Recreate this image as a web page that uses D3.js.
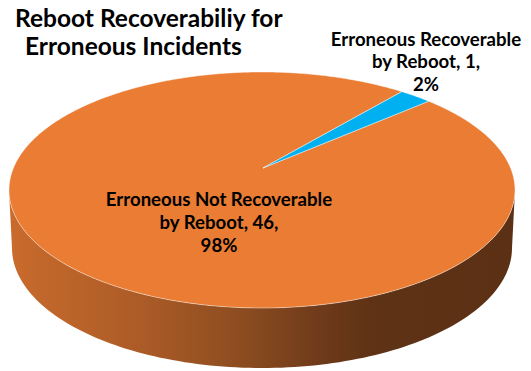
<!DOCTYPE html>
<html>
<head>
<meta charset="utf-8">
<script src="https://cdn.jsdelivr.net/npm/d3@7"></script>
<style>
  body { margin: 0; background: #fff; }
  svg { display: block; font-family: Lato, 'Open Sans', sans-serif; font-weight: bold; }
</style>
</head>
<body>
<svg></svg>
<script>
const width = 531
const height = 371

// data
const categories = ['Erroneous Not Recoverable by Reboot', 'Erroneous Recoverable by Reboot']
const values = [46, 1]
const percents = ['98%', '2%']
const labelLines = [
  ['Erroneous Not Recoverable', 'by Reboot, 46,', '98%'],
  ['Erroneous Recoverable', 'by Reboot, 1,', '2%']
]
const titleLines = ['Reboot Recoverabiliy for', 'Erroneous Incidents']
const colors = ['#EA7C33', '#00B0F0']

// top ellipse + perspective centre
const cx = 262, cy = 190, rx = 253, ry = 118
const apex = [263, 168]
// bottom rim of the side wall
const bcx = 262, bcy = 248, brx = 250, bry = 120

const rim = a => [cx + rx * Math.sin(a), cy - ry * Math.cos(a)]
const bottomRim = a => [bcx + brx * Math.sin(a), bcy - bry * Math.cos(a)]

const startDeg = 41.2
const pie = d3.pie()
  .sort(null)
  .startAngle(startDeg * Math.PI / 180)
  .endAngle(startDeg * Math.PI / 180 + 2 * Math.PI)

const arcs = pie(values)

const svg = d3.select('svg')
  .attr('width', width)
  .attr('height', height)

const defs = svg.append('defs')
const grad = defs.append('linearGradient')
  .attr('id', 'side')
  .attr('gradientUnits', 'userSpaceOnUse')
  .attr('x1', cx - rx).attr('x2', cx + rx)
  .attr('y1', 0).attr('y2', 0)
grad.selectAll('stop')
  .data([[0, '#C96B2C'], [0.25, '#AD5C27'], [0.45, '#8E4D20'], [0.62, '#6E3A1A'], [0.72, '#5E3215'], [1, '#5B3014']])
  .enter().append('stop')
    .attr('offset', d => d[0])
    .attr('stop-color', d => d[1])

// side wall: front half of the rim
const steps = 120
const sideTop = d3.range(steps + 1).map(i => rim(Math.PI / 2 + Math.PI * i / steps))
const sideBottom = d3.range(steps + 1).map(i => bottomRim(Math.PI * 3 / 2 - Math.PI * i / steps))
svg.append('path')
  .attr('d', d3.line()(sideTop.concat(sideBottom)) + 'Z')
  .attr('fill', 'url(#side)')

// top slices
const slicePath = d => {
  const n = Math.max(2, Math.ceil((d.endAngle - d.startAngle) / 0.01))
  const pts = d3.range(n + 1).map(i => rim(d.startAngle + (d.endAngle - d.startAngle) * i / n))
  return d3.line()([apex].concat(pts)) + 'Z'
}

svg.selectAll('path.slice')
  .data(arcs)
  .enter()
  .append('path')
    .attr('class', 'slice')
    .attr('d', slicePath)
    .attr('fill', (d, i) => colors[i])
    .attr('stroke', 'rgba(255,255,255,0.55)')
    .attr('stroke-width', 0.8)
    .attr('stroke-linejoin', 'round')

// data labels
const labelPos = [[219, 206], [426, 45.5]]
const lineGap = 22.8

labelLines.forEach((lines, i) => {
  const t = svg.append('text')
    .attr('text-anchor', 'middle')
    .attr('font-size', 18.6)
    .attr('fill', '#000')
  lines.forEach((s, j) => {
    t.append('tspan')
      .attr('x', labelPos[i][0])
      .attr('y', labelPos[i][1] + j * lineGap)
      .text(s)
  })
})

// title
const titleX = [15, 25]
const titleY = [27, 55]
titleLines.forEach((s, i) => {
  svg.append('text')
    .attr('x', titleX[i])
    .attr('y', titleY[i])
    .attr('font-size', 24.5)
    .attr('fill', '#000')
    .text(s)
})
</script>
</body>
</html>
